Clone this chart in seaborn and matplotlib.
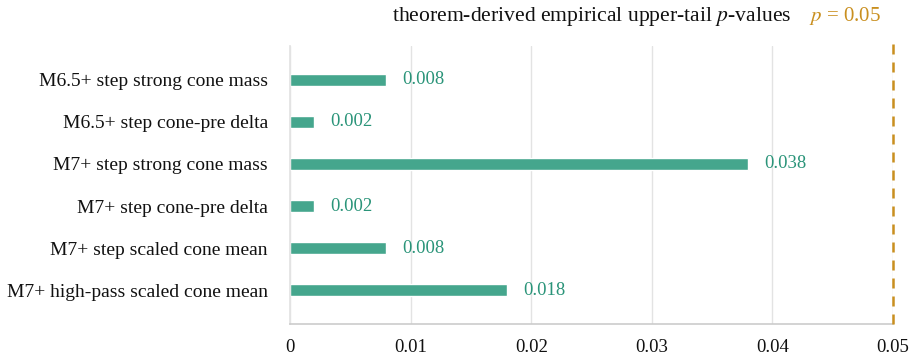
import matplotlib
matplotlib.use("Agg")
import matplotlib.pyplot as plt
import pandas as pd
import seaborn as sns

labels = [
    "M6.5+ step strong cone mass",
    "M6.5+ step cone-pre delta",
    "M7+ step strong cone mass",
    "M7+ step cone-pre delta",
    "M7+ step scaled cone mean",
    "M7+ high-pass scaled cone mean",
]
p_values = [0.008, 0.002, 0.038, 0.002, 0.008, 0.018]
threshold = 0.05
x_ticks = [0, 0.01, 0.02, 0.03, 0.04, 0.05]
x_tick_labels = ["0", "0.01", "0.02", "0.03", "0.04", "0.05"]

bar_color = "#45a68d"
text_color = "#2a9479"
line_color = "#c98f1f"

sns.set_theme(style="white")
plt.rcParams["font.family"] = ["Liberation Serif", "DejaVu Serif"]
plt.rcParams["mathtext.fontset"] = "stix"

df = pd.DataFrame({"label": labels, "p": p_values})

fig = plt.figure(figsize=(9.13, 3.58), dpi=100)
ax = fig.add_axes([290 / 913, 1 - 324 / 358, 603 / 913, 278 / 358])

sns.barplot(data=df, x="p", y="label", orient="h", color=bar_color,
            width=0.28, saturation=1, ax=ax)

for i, v in enumerate(p_values):
    ax.annotate(f"{v:.3f}", xy=(v, i), xytext=(11.5, 0), textcoords="offset points",
                ha="left", va="center", color=text_color, fontsize=13.5)

ax.set_xlim(0, 0.05)
ax.set_ylim(5.8, -0.8)
ax.set_xticks(x_ticks)
ax.set_xticklabels(x_tick_labels, fontsize=13.5)
ax.tick_params(axis="y", labelsize=14, length=0, pad=16, labelcolor="#111111")
ax.tick_params(axis="x", length=0, pad=11, labelcolor="#111111")
ax.set_xlabel("")
ax.set_ylabel("")
ax.grid(axis="x", color="#e3e3e3", linewidth=1)
ax.set_axisbelow(True)
for side in ["top", "right"]:
    ax.spines[side].set_visible(False)
ax.spines["left"].set_color("#e3e3e3")
ax.spines["bottom"].set_color("#cccccc")
ax.spines["bottom"].set_linewidth(1.2)

ax.axvline(threshold, ymin=0, ymax=1.025, color=line_color, linewidth=1.8,
           linestyle=(0, (4, 3.2)), clip_on=False, zorder=5)

fig.text(592 / 913, 1 - 21 / 358, "theorem-derived empirical upper-tail $p$-values",
         ha="center", va="baseline", fontsize=15.6, color="#111111")
fig.text(845 / 913, 1 - 21 / 358, "$p$ = 0.05", ha="center", va="baseline",
         fontsize=15, color=line_color)

fig.savefig("out.png", dpi=100)
